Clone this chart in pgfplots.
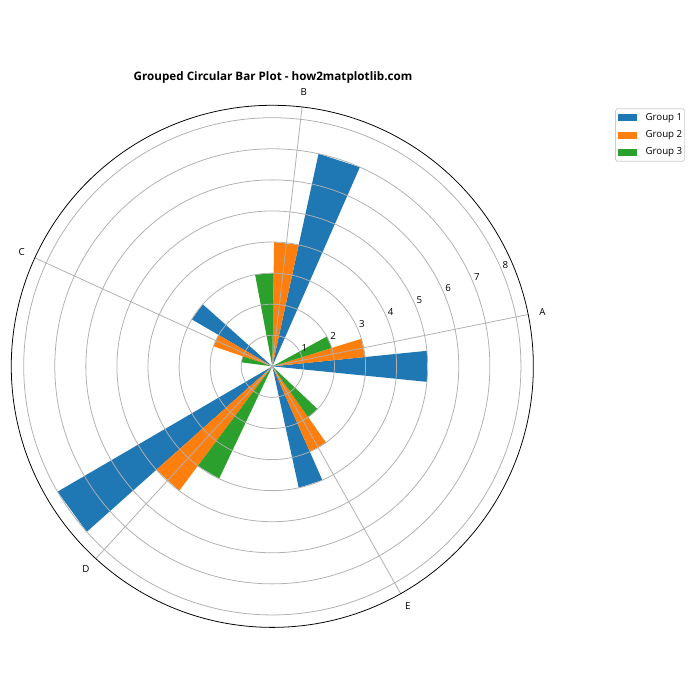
\documentclass[border=0pt]{standalone}
\usepackage{fontspec}
\setmainfont{Open Sans}
\usepackage{pgfplots}
\pgfplotsset{compat=1.18}
\usepgfplotslibrary{polar}
\definecolor{cA}{HTML}{1F77B4}
\definecolor{cB}{HTML}{FF7F0E}
\definecolor{cC}{HTML}{2CA02C}
\definecolor{gridgray}{HTML}{B0B0B0}
\definecolor{leggray}{HTML}{CCCCCC}
\begin{document}
\begin{tikzpicture}
\path[use as bounding box] (-280.1pt,-343.2pt) rectangle (439.9pt,376.8pt);
\begin{polaraxis}[
  at={(0pt,0pt)}, anchor=center,
  scale only axis, width=537pt, height=537pt,
  ymin=0, ymax=8.4,
  xtick={11.459,83.459,155.459,227.459,299.459},
  xticklabels={},
  ytick={1,2,3,4,5,6,7,8},
  yticklabels={},
  grid=major,
  major grid style={draw=gridgray, line width=0.8pt},
  major tick length=0pt,
  axis line style={line width=0.8pt, black},
  y axis line style={draw=none},
  axis on top,
  clip=false,
  unbounded coords=jump,
  legend cell align=left,
  legend image code/.code={\fill[#1, sharp corners] (0pt,-3.6pt) rectangle (20pt,3.6pt);},
  legend style={at={(1.1564,0.9942)}, anchor=north west, draw=leggray,
    line width=0.8pt, rounded corners=2pt,
    font=\fontsize{10}{12}\selectfont,
    inner xsep=2.5pt, inner ysep=4.5pt, row sep=8pt,
    nodes={inner sep=0pt, text height=7.3pt, text depth=2.4pt},
    /tikz/every odd column/.append style={column sep=8.5pt}},
]
\addplot[fill=cA, draw=none] table[row sep=\\] {
a r \\
0 0 \\ -5.730 5 \\ 5.730 5 \\ nan nan \\
0 0 \\ 66.270 7 \\ 77.730 7 \\ nan nan \\
0 0 \\ 138.270 3 \\ 149.730 3 \\ nan nan \\
0 0 \\ 210.270 8 \\ 221.730 8 \\ nan nan \\
0 0 \\ 282.270 4 \\ 293.730 4 \\
};
\addlegendentry{Group 1}
\addplot[fill=cB, draw=none] table[row sep=\\] {
a r \\
0 0 \\ 5.730 3 \\ 17.189 3 \\ nan nan \\
0 0 \\ 77.730 4 \\ 89.189 4 \\ nan nan \\
0 0 \\ 149.730 2 \\ 161.189 2 \\ nan nan \\
0 0 \\ 221.730 5 \\ 233.189 5 \\ nan nan \\
0 0 \\ 293.730 3 \\ 305.189 3 \\
};
\addlegendentry{Group 2}
\addplot[fill=cC, draw=none] table[row sep=\\] {
a r \\
0 0 \\ 17.189 2 \\ 28.648 2 \\ nan nan \\
0 0 \\ 89.189 3 \\ 100.648 3 \\ nan nan \\
0 0 \\ 161.189 1 \\ 172.648 1 \\ nan nan \\
0 0 \\ 233.189 4 \\ 244.648 4 \\ nan nan \\
0 0 \\ 305.189 2 \\ 316.648 2 \\
};
\addlegendentry{Group 3}
\pgfplotsinvokeforeach{1,...,8}{
  \node[font=\fontsize{10}{12}\selectfont, inner sep=0pt, xshift=3.6pt, yshift=6.7pt] at (axis cs:22.5,#1) {#1};
}
\node[font=\fontsize{10}{12}\selectfont, inner sep=0pt] at (axis cs:11.459,8.87) {A};
\node[font=\fontsize{10}{12}\selectfont, inner sep=0pt] at (axis cs:83.459,8.87) {B};
\node[font=\fontsize{10}{12}\selectfont, inner sep=0pt] at (axis cs:155.459,8.87) {C};
\node[font=\fontsize{10}{12}\selectfont, inner sep=0pt] at (axis cs:227.459,8.87) {D};
\node[font=\fontsize{10}{12}\selectfont, inner sep=0pt] at (axis cs:299.459,8.87) {E};
\end{polaraxis}
\node[font=\bfseries\fontsize{12}{14}\selectfont, anchor=base, inner sep=0pt] at (0.7pt,293.8pt) {Grouped Circular Bar Plot - how2matplotlib.com};
\end{tikzpicture}
\end{document}
